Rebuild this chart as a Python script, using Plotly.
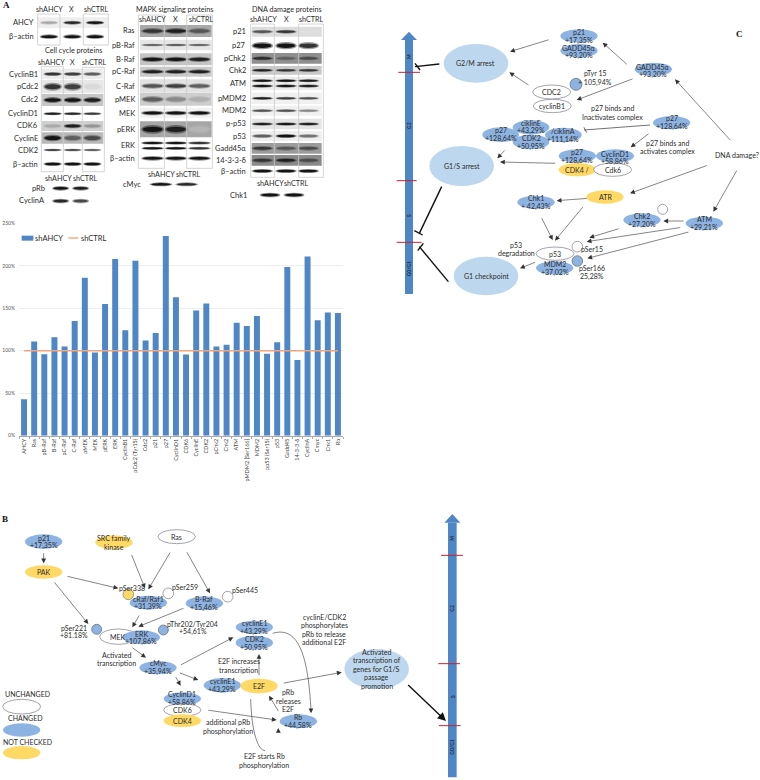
import plotly.graph_objects as go

# ---------- bar chart data ----------
categories = ["AHCY","Ras","pB-Raf","B-Raf","pC-Raf","C-Raf","pMEK","MEK","pERK","ERK","CyclinB1","pCdc2 (Tyr15)","Cdc2","p21","p27","CyclinD1","CDK6","CyclinE","CDK2","pChk2","Chk2","ATM","pMDM2 [Ser166]","MDM2","pp53 (Ser15)","p53","Gadd45","14-3-3-δ","CyclinA","Cmyc","Chk1","Rb"]
shAHCY = [43,111,96,116,105,135,186,98,155,208,124,206,112,121,235,163,95.5,147.5,155.5,105,107,133,129,141,96.5,110,198.5,89,211,136,145,144.5]
shCTRL = [100]*32
y_ticks = [0, 50, 100, 150, 200, 250]
y_tick_labels = ["0%", "50%", "100%", "150%", "200%", "250%"]

W, H = 760, 780
FONT = "Lato"
TXT = "#2b2b2b"
BAR, CTRL = "#4F86C6", "#F0A67A"
BLUE, LIGHT, YEL, WHITE = "#8DB3E2", "#BDD7EE", "#FFD966", "#FFFFFF"
shapes, annos = [], []
X = lambda p: p / W
Y = lambda p: 1 - p / H

# coordinate frames for the three panels
TA = lambda x, y: (x / 3, y / 3)
TC = lambda x, y: (380 + x / 3, 20 + y / 3)
TB = lambda x, y: (x / 3, 500 + y / 3)
TL = lambda x, y: (x / 3, 210 + y / 3)

def text(T, x, y, s, size=7, anchor="center", color=TXT, bold=False, angle=0, family=FONT):
    px, py = T(x, y)
    annos.append(dict(x=X(px), y=Y(py), xref="paper", yref="paper", text=f"<b>{s}</b>" if bold else s, showarrow=False,
                      xanchor=anchor, yanchor="middle", textangle=angle,
                      font=dict(family=family, size=size, color=color)))

def ell(T, cx, cy, rx, ry, fill, line=None, lw=0.6, op=1.0):
    x0, y0 = T(cx - rx, cy - ry); x1, y1 = T(cx + rx, cy + ry)
    shapes.append(dict(type="circle", xref="paper", yref="paper", x0=X(x0), x1=X(x1), y0=Y(y1), y1=Y(y0),
                       fillcolor=fill, opacity=op, line=dict(color=line or "rgba(0,0,0,0)", width=lw if line else 0)))

def rect(T, x0, y0, x1, y1, fill="rgba(0,0,0,0)", line=None, lw=0.8):
    a, b = T(x0, y0); c, d = T(x1, y1)
    shapes.append(dict(type="rect", xref="paper", yref="paper", x0=X(a), x1=X(c), y0=Y(d), y1=Y(b),
                       fillcolor=fill, line=dict(color=line or "rgba(0,0,0,0)", width=lw if line else 0)))

def seg(T, x0, y0, x1, y1, color="#333", w=0.7):
    a, b = T(x0, y0); c, d = T(x1, y1)
    shapes.append(dict(type="line", xref="paper", yref="paper", x0=X(a), x1=X(c), y0=Y(b), y1=Y(d),
                       line=dict(color=color, width=w)))

def arrow(T, x0, y0, x1, y1, w=0.6, color="#333", size=1.6):
    a, b = T(x0, y0); c, d = T(x1, y1)
    annos.append(dict(x=X(c), y=Y(d), xref="paper", yref="paper", axref="pixel", ayref="pixel", ax=a - c, ay=b - d,
                      text="", showarrow=True, arrowhead=2, arrowsize=size, arrowwidth=w, arrowcolor=color, standoff=0))

def curve(T, pts, color="#333", w=0.6):
    p = [T(*q) for q in pts]
    s = f"M {X(p[0][0])} {Y(p[0][1])} C " + " ".join(f"{X(a)} {Y(b)}" for a, b in p[1:])
    shapes.append(dict(type="path", xref="paper", yref="paper", path=s, line=dict(color=color, width=w)))

def node(T, cx, cy, rx, ry, fill, lines=(), ys=(), size=7, line=None):
    ell(T, cx, cy, rx, ry, fill, line=line)
    for s, y in zip(lines, ys):
        text(T, cx, y, s, size=size)

def label(T, x, lines, ys, size=7, anchor="center"):
    for s, y in zip(lines, ys):
        text(T, x, y, s, size=size, anchor=anchor)

def timeline(T, xc, top, headbot, bottom, hw, sw, reds, labs):
    a, b = T(xc - sw, headbot); c, d = T(xc + sw, bottom)
    shapes.append(dict(type="rect", xref="paper", yref="paper", x0=X(a), x1=X(c), y0=Y(d), y1=Y(b),
                       fillcolor=BAR, line=dict(width=0)))
    t = T(xc, top); l = T(xc - hw, headbot); r = T(xc + hw, headbot)
    shapes.append(dict(type="path", xref="paper", yref="paper", fillcolor=BAR, line=dict(width=0),
                       path=f"M {X(t[0])} {Y(t[1])} L {X(l[0])} {Y(l[1])} L {X(r[0])} {Y(r[1])} Z"))
    for y, x0, x1 in reds:
        seg(T, x0, y, x1, y, color="#C8232C", w=1)
    for s, y in labs:
        text(T, xc, y, s, size=5, angle=-90, color="#1c2f4a", bold=True)

# ---------- panel letters ----------
text(TA, 18, 16, "A", size=9, bold=True, family="Liberation Serif", color="#111")
text(TB, 16, 58, "B", size=9, bold=True, family="Liberation Serif", color="#111")
text(TC, 1079, 42, "C", size=9, bold=True, family="Liberation Serif", color="#111")

# ---------- blots (panel A) ----------
def band(cx, cy, w, h, d):
    v = int(235 - 215 * d)
    col = f"rgb({v},{v},{v})"
    ell(TA, cx, cy, w * 0.56, h * 1.0, col, op=0.45)
    ell(TA, cx, cy, w * 0.48, h * 0.62, col, op=1)

def blot(lanes, lab_x, x0, x1, rows, w=50):
    for name, y, bg, hh, ds, th, n in rows:
        if bg:
            rect(TA, x0, y - hh, x1, y + hh, fill=bg)
        for cx, d in zip(lanes, ds):
            if d <= 0:
                continue
            if n == 1:
                band(cx, y, w, th, d)
            else:
                for k in range(n):
                    band(cx, y - 8 * (n - 1) + 16 * k, w, th, d)
        text(TA, lab_x, y, name, size=7.5, anchor="right")

def headers(names, xs, y):
    for s, x in zip(names, xs):
        text(TA, x, y, s, size=7.2)

H3 = ["shAHCY", "X", "shCTRL"]
H2 = ["shAHCY", "shCTRL"]

headers(H3, [147, 215, 290], 30)
blot([147, 217, 285], 108, 113, 325, [
    ("AHCY", 68, "#eeeeee", 16, [0.3, 0.9, 1.0], 6, 1),
    ("β–actin", 110, None, 0, [1.0, 1.0, 1.0], 7, 1),
])
rect(TA, 113, 42, 180, 135, line="#c9c9c9"); rect(TA, 250, 42, 325, 135, line="#c9c9c9")

text(TA, 220, 152, "Cell cycle proteins", size=7.2)
headers(H3, [155, 218, 283], 187)
blot([158, 218, 277], 120, 125, 310, [
    ("CyclinB1", 222, "#ececec", 16, [0.85, 0.8, 0.65], 6, 1),
    ("pCdc2", 260, "#e8e8e8", 20, [0.85, 0.8, 0.08], 12, 1),
    ("Cdc2", 300, "#c6c6c6", 18, [1.0, 1.0, 0.95], 9, 1),
    ("CyclinD1", 341, None, 0, [0.95, 0.9, 0.8], 5, 1),
    ("CDK6", 378, "#cfcfcf", 15, [0.3, 0.95, 0.4], 7, 1),
    ("CyclinE", 414, "#b8b8b8", 17, [1.0, 0.65, 0.75], 10, 1),
    ("CDK2", 450, None, 0, [0.9, 0.85, 0.75], 4, 1),
    ("β–actin", 492, None, 0, [1.0, 1.0, 1.0], 6, 1),
])
rect(TA, 124, 200, 190, 515, line="#c9c9c9"); rect(TA, 247, 202, 313, 515, line="#c9c9c9")

headers(H2, [175, 255], 535)
blot([182, 242], 142, 150, 280, [
    ("pRb", 565, None, 0, [1.0, 0.95], 7, 1),
    ("CyclinA", 603, None, 0, [0.9, 0.75], 7, 1),
], w=46)

text(TA, 523, 28, "MAPK signaling proteins", size=7.2)
headers(H3, [457, 525, 603], 57)
blot([458, 528, 598], 410, 420, 635, [
    ("Ras", 93, "#a9a9a9", 18, [0.85, 0.95, 0.7], 9, 1),
    ("pB-Raf", 135, "#e6e6e6", 16, [0.7, 0.75, 0.7], 4, 1),
    ("B-Raf", 178, "#c4c4c4", 18, [1.0, 1.0, 0.95], 8, 1),
    ("pC-Raf", 215, "#c9c9c9", 15, [0.95, 0.95, 0.95], 7, 1),
    ("C-Raf", 258, "#e2e2e2", 20, [0.7, 0.8, 0.65], 8, 1),
    ("pMEK", 298, "#cdcdcd", 19, [0.65, 0.45, 0.28], 10, 1),
    ("MEK", 339, "#f2f2f2", 16, [1.0, 1.0, 1.0], 7, 1),
    ("pERK", 388, "#a6a6a6", 24, [1.0, 0.95, 0.25], 13, 1),
    ("ERK", 437, None, 0, [1.0, 1.0, 0.85], 5, 2),
    ("β–actin", 475, None, 0, [1.0, 1.0, 1.0], 7, 1),
], w=62)
rect(TA, 415, 45, 493, 505, line="#c9c9c9"); rect(TA, 560, 45, 637, 505, line="#c9c9c9")

headers(H2, [485, 565], 522)
blot([483, 560], 430, 440, 600, [("cMyc", 553, None, 0, [1.0, 0.9], 6, 1)], w=62)

text(TA, 860, 28, "DNA damage proteins", size=7.2)
headers(H3, [790, 858, 933], 57)
blot([787, 858, 925], 745, 755, 965, [
    ("p21", 95, "#dddddd", 15, [0.7, 0.85, 0.05], 6, 1),
    ("p27", 137, None, 0, [1.0, 1.0, 0.85], 11, 1),
    ("pChk2", 175, "#8f8f8f", 16, [0.9, 0.65, 0.75], 6, 1),
    ("Chk2", 211, "#c9c9c9", 13, [0.95, 0.85, 0.85], 5, 1),
    ("ATM", 250, "#ececec", 20, [1.0, 1.0, 0.95], 5, 2),
    ("pMDM2", 295, "#f0f0f0", 17, [0.95, 0.8, 0.7], 5, 1),
    ("MDM2", 332, "#f0f0f0", 15, [0.7, 0.7, 0.45], 5, 1),
    ("p-p53", 372, "#e4e4e4", 16, [0.95, 1.0, 0.95], 5, 1),
    ("p53", 408, "#eeeeee", 15, [0.65, 1.0, 0.55], 6, 1),
    ("Gadd45α", 445, "#9c9c9c", 16, [0.85, 0.7, 0.75], 7, 1),
    ("14-3-3-δ", 481, "#8a8a8a", 16, [0.85, 0.95, 0.75], 7, 1),
    ("β–actin", 513, None, 0, [1.0, 1.0, 1.0], 6, 1),
], w=58)
rect(TA, 752, 72, 823, 532, line="#c9c9c9"); rect(TA, 896, 72, 970, 532, line="#c9c9c9")

headers(H2, [810, 890], 550)
blot([810, 882], 748, 770, 920, [("Chk1", 585, None, 0, [1.0, 1.0], 7, 1)], w=56)

# ---------- bar chart key ----------
rect(TL, 65, 77, 100, 92, fill=BAR)
text(TL, 100, 84, "shAHCY", size=7.5, anchor="left")
seg(TL, 205, 84, 235, 84, color=CTRL, w=1.4)
text(TL, 238, 84, "shCTRL", size=7.5, anchor="left")

# ---------- panel C ----------
timeline(TC, 87, 35, 60, 822, 24, 12,
         [(157, 55, 120), (482, 50, 110), (667, 50, 125)],
         [("M", 108), ("G2", 315), ("S", 585), ("G0/G1", 745)])
for a in [(178, 132, 105, 140), (105, 130, 120, 150), (185, 500, 118, 640), (103, 632, 128, 645),
          (205, 785, 118, 680), (113, 692, 130, 670)]:
    seg(TC, *a, color="#111", w=1.4)

node(TC, 288, 130, 97, 58, LIGHT, ["G2/M arrest"], [128])
node(TC, 245, 438, 97, 60, LIGHT, ["G1/S arrest"], [438])
node(TC, 318, 768, 97, 58, LIGHT, ["G1 checkpoint"], [768])
node(TC, 597, 48, 56, 20, BLUE, ["p21", "+17,35%"], [35, 60])
node(TC, 597, 92, 56, 20, BLUE, ["GADD45α", "+93,20%"], [85, 108])
node(TC, 820, 148, 56, 20, BLUE, ["GADD45α", "+93,20%"], [140, 163])
ell(TC, 588, 193, 18, 18, BLUE, line="#555")
node(TC, 515, 216, 57, 21, WHITE, ["CDC2"], [216], line="#667")
node(TC, 517, 258, 57, 20, WHITE, ["cyclinB1"], [258], line="#667")
label(TC, 645, ["pTyr 15", "+ 105,94%"], [160, 188])
label(TC, 697, ["p27 binds and", "Inactivates complex"], [265, 290])
node(TC, 875, 308, 56, 20, BLUE, ["p27", "+128,64%"], [295, 320])
node(TC, 362, 344, 55, 22, BLUE, ["p27", "+128,64%"], [330, 355])
node(TC, 550, 345, 55, 22, BLUE, ["/ciklinA", "+111,14%"], [332, 357])
node(TC, 453, 322, 55, 22, BLUE, ["ciklinE", "+43,29%"], [308, 333])
node(TC, 453, 366, 55, 22, BLUE, ["CDK2", "+50,95%"], [355, 380])
node(TC, 592, 449, 56, 20, YEL, ["CDK4 /"], [449])
node(TC, 698, 449, 57, 20, WHITE, ["Cdk6"], [449], line="#667")
node(TC, 592, 408, 56, 20, BLUE, ["p27", "+128,64%"], [397, 421])
node(TC, 705, 408, 57, 20, BLUE, ["CyclinD1", "+58,86%"], [401, 425])
label(TC, 862, ["p27 binds and", "activates complex"], [368, 394])
text(TC, 1070, 405, "DNA damage?")
node(TC, 675, 531, 56, 20, YEL, ["ATR"], [531])
node(TC, 468, 547, 56, 20, BLUE, ["Chk1", "+ 42,43%"], [534, 559])
node(TC, 786, 600, 56, 20, BLUE, ["Chk2", "+27,20%"], [588, 613])
ell(TC, 848, 568, 15, 15, WHITE, line="#667")
node(TC, 973, 610, 56, 20, BLUE, ["ATM", "+29,21%"], [597, 622])
node(TC, 524, 744, 56, 20, BLUE, ["MDM2", "+37,02%"], [733, 757])
node(TC, 525, 701, 57, 20, WHITE, ["p53"], [701], line="#667")
ell(TC, 592, 680, 16, 16, WHITE, line="#667")
ell(TC, 592, 723, 16, 16, BLUE, line="#555")
label(TC, 408, ["p53", "degradation"], [675, 700])
text(TC, 635, 688, "pSer15")
label(TC, 635, ["pSer166", "25,28%"], [744, 770])
for a in [(510, 58, 390, 95), (450, 198, 388, 157), (745, 137, 668, 68), (762, 175, 590, 240), (1055, 365, 885, 178),
          (985, 435, 750, 520), (1073, 447, 1000, 575), (915, 603, 850, 603), (625, 535, 530, 542), (612, 557, 525, 662),
          (483, 590, 518, 660), (720, 625, 628, 653), (905, 622, 620, 665), (930, 635, 622, 715), (470, 725, 420, 745),
          (530, 430, 360, 426), (378, 387, 352, 415), (810, 338, 752, 382)]:
    arrow(TC, *a)
seg(TC, 810, 315, 612, 330); seg(TC, 612, 322, 620, 338)

# ---------- panel B ----------
node(TB, 131, 125, 56, 22, BLUE, ["p21", "+17,35%"], [113, 137])
node(TB, 131, 216, 56, 20, YEL, ["PAK"], [216])
node(TB, 342, 127, 56, 21, YEL, ["SRC family", "kinase"], [115, 140])
node(TB, 530, 110, 56, 21, WHITE, ["Ras"], [110], line="#667")
node(TB, 445, 308, 56, 21, BLUE, ["cRaf/Raf1", "+31,39%"], [297, 320])
ell(TB, 385, 283, 16, 16, YEL, line="#666")
ell(TB, 505, 280, 16, 16, WHITE, line="#667")
text(TB, 397, 265, "pSer338"); text(TB, 555, 262, "pSer259")
node(TB, 613, 310, 56, 21, BLUE, ["B-Raf", "+15,46%"], [298, 322])
ell(TB, 683, 290, 16, 16, WHITE, line="#667")
text(TB, 735, 271, "pSer445")
node(TB, 355, 410, 56, 23, WHITE, ["MEK"], [410], line="#667")
ell(TB, 290, 388, 15, 15, BLUE, line="#555"); ell(TB, 490, 390, 15, 15, BLUE, line="#555")
node(TB, 424, 412, 56, 21, BLUE, ["ERK", "+107,86%"], [403, 423])
label(TB, 223, ["pSer221", "+81.18%"], [384, 404])
label(TB, 578, ["pThr202/Tyr204", "+54,61%"], [372, 395])
label(TB, 350, ["Activated", "transcription"], [465, 490])
node(TB, 474, 503, 56, 20, BLUE, ["cMyc", "+35,94%"], [490, 515])
node(TB, 547, 596, 56, 19, BLUE, ["CyclinD1", "+58,86%"], [583, 606])
node(TB, 547, 630, 56, 19, WHITE, ["CDK6"], [630], line="#667")
node(TB, 547, 662, 56, 19, YEL, ["CDK4"], [662])
node(TB, 667, 556, 56, 22, BLUE, ["cyclinE1", "+43,29%"], [543, 567])
node(TB, 777, 558, 56, 22, YEL, ["E2F"], [558])
node(TB, 763, 382, 56, 20, BLUE, ["cyclinE1", "+43,29%"], [369, 394])
node(TB, 763, 428, 56, 21, BLUE, ["CDK2", "+50,95%"], [417, 442])
node(TB, 895, 664, 56, 21, BLUE, ["Rb", "+44,58%"], [651, 676])
label(TB, 716, ["E2F increases", "transcription"], [484, 510])
label(TB, 683, ["additional pRb", "phosphorylation"], [666, 692])
label(TB, 793, ["E2F starts Rb", "phosphorylation"], [769, 795])
label(TB, 864, ["pRb", "releases", "E2F"], [577, 603, 628])
label(TB, 973, ["cyclinE/CDK2", "phosphorylates", "pRb to release", "additional E2F"], [350, 376, 402, 427])
node(TB, 1130, 507, 97, 60, LIGHT, ["Activated", "transcription of", "genes for G1/S", "passage", "promotion"], [455, 481, 507, 532, 558])
timeline(TB, 1357, 42, 68, 832, 24, 13,
         [(166, 1323, 1389), (491, 1315, 1380), (677, 1317, 1382)],
         [("M", 115), ("G2", 325), ("S", 590), ("G0/G1", 742)])
arrow(TB, 1220, 551, 1338, 663, w=1.4, color="#111", size=1.2)
for a in [(131, 155, 131, 190), (198, 228, 355, 265), (160, 243, 265, 372), (393, 160, 435, 265), (513, 153, 445, 268),
          (558, 152, 630, 280), (420, 342, 397, 382), (555, 323, 415, 380), (393, 440, 438, 473), (538, 497, 700, 412),
          (535, 517, 595, 540), (525, 527, 542, 557), (620, 630, 830, 660), (777, 530, 777, 462), (847, 550, 1025, 517),
          (838, 638, 807, 587)]:
    arrow(TB, *a)
curve(TB, [(752, 597), (755, 700), (775, 752), (795, 752), (815, 752), (832, 720), (835, 690)])
arrow(TB, 835, 700, 835, 684)
curve(TB, [(818, 400), (900, 375), (925, 480), (933, 632)])
arrow(TB, 933, 625, 933, 640)

# legend of panel B
text(TB, 8, 583, "UNCHANGED", anchor="left")
ell(TB, 65, 620, 57, 22, WHITE, line="#667")
text(TB, 18, 654, "CHANGED", anchor="left")
ell(TB, 65, 690, 56, 20, BLUE)
text(TB, 3, 725, "NOT CHECKED", anchor="left")
ell(TB, 65, 758, 56, 20, YEL)

# ---------- figure ----------
fig = go.Figure()
fig.add_bar(x=categories, y=shAHCY, name="shAHCY", marker=dict(color=BAR, line=dict(width=0)))
fig.add_scatter(x=categories, y=shCTRL, name="shCTRL", mode="lines", line=dict(color=CTRL, width=1.4))
fig.update_layout(
    width=W, height=H, margin=dict(l=0, r=0, t=0, b=0), paper_bgcolor="white", plot_bgcolor="white",
    autosize=False, bargap=0.41, shapes=shapes, annotations=annos, showlegend=False,
    font=dict(family=FONT, color="#444"),
    xaxis=dict(domain=[19 / W, 343 / W], type="category", tickangle=-90, tickfont=dict(size=5.5, color="#444"),
               showline=True, linecolor="#aaa", linewidth=0.7, ticks="outside", ticklen=2, tickcolor="#aaa",
               tickson="boundaries", showgrid=False, automargin=False),
    yaxis=dict(domain=[Y(435.7), Y(223.3)], range=[0, 250], tickmode="array", tickvals=y_ticks, ticktext=y_tick_labels,
               tickfont=dict(size=5, color="#555"), showgrid=True, gridcolor="#eeeeee", gridwidth=0.7,
               zeroline=False, showline=False, automargin=False, ticklabelstandoff=3),
)
fig.write_html("out.html", config=dict(displayModeBar=False),
               post_script="document.body.style.margin='0';document.body.style.overflow='hidden';")
